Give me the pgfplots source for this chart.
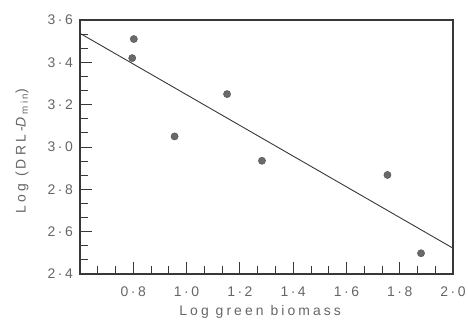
\documentclass[border=0pt]{standalone}
\usepackage{fontspec}
\setmainfont{Liberation Sans}
\newfontfamily\tf[LetterSpace=18]{Liberation Sans}
\newfontfamily\lf[LetterSpace=22]{Liberation Sans}
\usepackage{pgfplots}
\pgfplotsset{compat=1.18}
\definecolor{txtc}{gray}{0.40}
\definecolor{inkc}{gray}{0.22}
\tikzset{tl/.style={text=txtc, font=\fontsize{14}{16}\selectfont\tf, inner sep=0pt}}
\begin{document}
\begin{tikzpicture}
\useasboundingbox (-80bp,-50bp) rectangle (388bp,274bp);
\begin{axis}[
  at={(0,0)}, anchor=south west,
  scale only axis,
  width=373bp, height=254bp,
  xmin=0.6, xmax=2.0, ymin=2.4, ymax=3.6,
  xtick=\empty, ytick=\empty,
  axis line style={draw=none},
  clip=false,
]
\addplot[only marks, mark=*, mark size=3.6bp, color=inkc!90, mark options={fill=inkc!75}] coordinates {
  (0.802,3.51) (0.796,3.42) (0.955,3.05) (1.152,3.25) (1.283,2.935) (1.754,2.868) (1.880,2.498)
};
\addplot[no marks, inkc, line width=0.9pt] coordinates {(0.6,3.537) (2.0,2.522)};
% frame and ticks
\draw[inkc, line width=1.1pt] (rel axis cs:0,0) rectangle (rel axis cs:1,1);
\pgfplotsinvokeforeach{0.8,1.0,1.2,1.4,1.6,1.8}{\draw[inkc, line width=0.8pt] (axis cs:#1,2.4) -- ++(0pt,12.5bp);}
\pgfplotsinvokeforeach{0.6667,0.7333,0.8667,0.9333,1.0667,1.1333,1.2667,1.3333,1.4667,1.5333,1.6667,1.7333,1.8667,1.9333}{\draw[inkc, line width=0.8pt] (axis cs:#1,2.4) -- ++(0pt,8bp);}
\pgfplotsinvokeforeach{2.6,2.8,3.0,3.2,3.4}{\draw[inkc, line width=0.8pt] (axis cs:0.6,#1) -- ++(12bp,0pt);}
\pgfplotsinvokeforeach{2.4667,2.5333,2.6667,2.7333,2.8667,2.9333,3.0667,3.1333,3.2667,3.3333,3.4667,3.5333}{\draw[inkc, line width=0.8pt] (axis cs:0.6,#1) -- ++(8.5bp,0pt);}
% tick labels
\node[tl, anchor=center, yshift=-17.5bp] at (axis cs:0.8,2.4) {0·8};
\node[tl, anchor=center, yshift=-17.5bp] at (axis cs:1.0,2.4) {1·0};
\node[tl, anchor=center, yshift=-17.5bp] at (axis cs:1.2,2.4) {1·2};
\node[tl, anchor=center, yshift=-17.5bp] at (axis cs:1.4,2.4) {1·4};
\node[tl, anchor=center, yshift=-17.5bp] at (axis cs:1.6,2.4) {1·6};
\node[tl, anchor=center, yshift=-17.5bp] at (axis cs:1.8,2.4) {1·8};
\node[tl, anchor=center, yshift=-17.5bp] at (axis cs:2.0,2.4) {2·0};
\node[tl, anchor=east, xshift=-7bp] at (axis cs:0.6,2.4) {2·4};
\node[tl, anchor=east, xshift=-7bp] at (axis cs:0.6,2.6) {2·6};
\node[tl, anchor=east, xshift=-7bp] at (axis cs:0.6,2.8) {2·8};
\node[tl, anchor=east, xshift=-7bp] at (axis cs:0.6,3.0) {3·0};
\node[tl, anchor=east, xshift=-7bp] at (axis cs:0.6,3.2) {3·2};
\node[tl, anchor=east, xshift=-7bp] at (axis cs:0.6,3.4) {3·4};
\node[tl, anchor=east, xshift=-7bp] at (axis cs:0.6,3.6) {3·6};
% axis titles
\node[text=txtc, font=\fontsize{14}{16}\selectfont\lf, yshift=-38bp] at (rel axis cs:0.483,0) {Log green biomass};
\node[xshift=-58bp, rotate=90, text=txtc, font=\fontsize{14}{16}\selectfont\lf] at (rel axis cs:0,0.484) {Log (DRL-\textit{D}\textsubscript{min})};
\end{axis}
\end{tikzpicture}
\end{document}
